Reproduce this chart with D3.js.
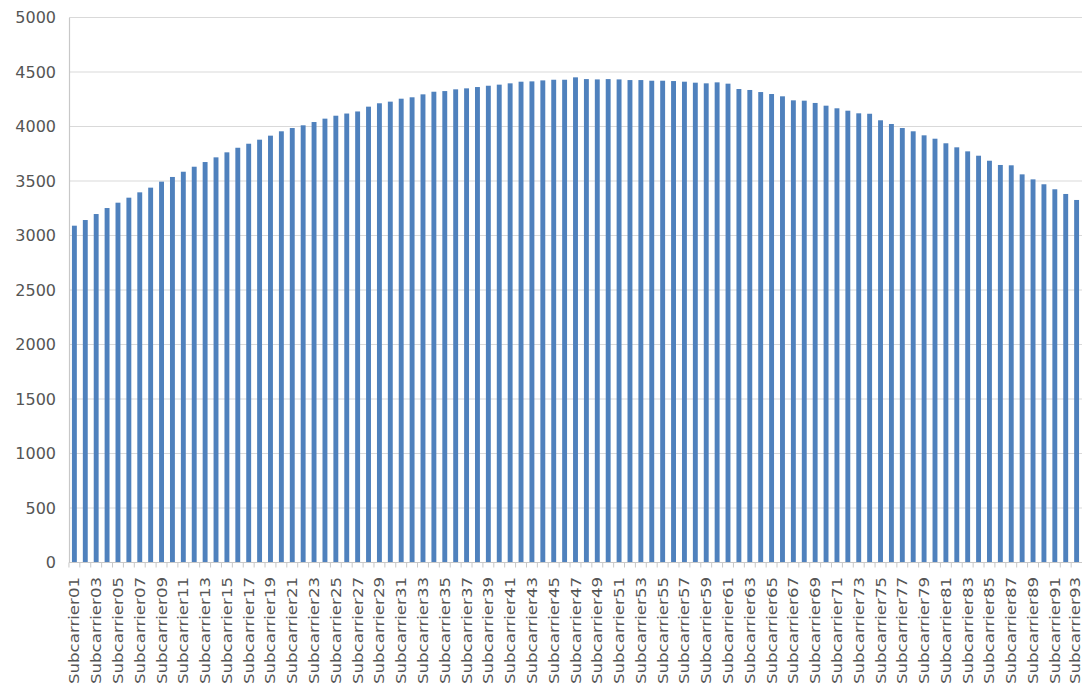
<!DOCTYPE html>
<html><head><meta charset="utf-8">
<script src="https://cdn.jsdelivr.net/npm/d3@7/dist/d3.min.js"></script>
<style>html,body{margin:0;padding:0;background:#fff;overflow:hidden}</style>
</head><body><svg id="c" width="1082" height="689"></svg>
<script>
const categories = Array.from({length: 93}, (_, i) => "Subcarrier" + String(i + 1).padStart(2, "0"));
const values = [
  3090, 3142, 3197, 3252, 3301, 3347, 3396, 3439, 3494, 3537,
  3585, 3631, 3674, 3717, 3763, 3805, 3842, 3879, 3916, 3956,
  3986, 4011, 4041, 4072, 4099, 4119, 4138, 4182, 4213, 4228,
  4255, 4268, 4295, 4319, 4325, 4341, 4350, 4362, 4374, 4384,
  4396, 4411, 4414, 4423, 4429, 4429, 4451, 4435, 4432, 4435,
  4432, 4426, 4426, 4420, 4420, 4417, 4411, 4402, 4396, 4405,
  4393, 4344, 4335, 4316, 4298, 4277, 4240, 4237, 4216, 4191,
  4167, 4145, 4121, 4117, 4057, 4023, 3986, 3956, 3919, 3888,
  3846, 3809, 3772, 3732, 3686, 3647, 3644, 3561, 3515, 3470,
  3424, 3381, 3326
];
const yTicks = [0, 500, 1000, 1500, 2000, 2500, 3000, 3500, 4000, 4500, 5000];

const svg = d3.select("#c");
const mLeft = 69, mRight = 1082, mTop = 17.5, mBottom = 562.5;
const x = d3.scaleBand().domain(categories).range([mLeft, mRight]).paddingInner(0.55).paddingOuter(0.27);
const y = d3.scaleLinear().domain([0, 5000]).range([mBottom, mTop]);

// gridlines
svg.append("g").selectAll("line").data(yTicks.filter(d => d > 0)).join("line")
  .attr("x1", mLeft).attr("x2", mRight)
  .attr("y1", d => y(d)).attr("y2", d => y(d))
  .attr("stroke", "#d9d9d9").attr("stroke-width", 1.2);

// bars
svg.append("g").selectAll("rect").data(values).join("rect")
  .attr("x", (d, i) => x(categories[i]))
  .attr("width", x.bandwidth())
  .attr("y", d => y(d))
  .attr("height", d => y(0) - y(d))
  .attr("fill", "#4f81bd");

// y axis
const yAxis = d3.axisLeft(y).tickValues(yTicks).tickFormat(d3.format("d")).tickSize(0).tickPadding(13);
const gy = svg.append("g").attr("transform", `translate(${mLeft},0)`).call(yAxis);
gy.select(".domain").attr("stroke", "#c8c8c8").attr("stroke-width", 1.2);
gy.selectAll("text").attr("font-family", "DejaVu Sans, Verdana, sans-serif")
  .attr("font-size", 16).attr("fill", "#555");

// x axis baseline
svg.append("line").attr("x1", mLeft).attr("x2", mRight).attr("y1", y(0)).attr("y2", y(0))
  .attr("stroke", "#c8c8c8").attr("stroke-width", 1.2);

// category boundary ticks
const step = x.step();
svg.append("g").selectAll("line").data(categories).join("line")
  .attr("x1", d => x(d) - (step - x.bandwidth()) / 2)
  .attr("x2", d => x(d) - (step - x.bandwidth()) / 2)
  .attr("y1", y(0)).attr("y2", y(0) + 5)
  .attr("stroke", "#c8c8c8");

// x labels (every other)
svg.append("g").selectAll("text").data(categories.filter((d, i) => i % 2 === 0)).join("text")
  .attr("transform", d => `translate(${Math.min(x(d) + x.bandwidth() / 2 + 5, 1080)},577) rotate(-90)`)
  .attr("text-anchor", "end")
  .attr("font-family", "DejaVu Sans, Verdana, sans-serif")
  .attr("font-size", 14)
  .attr("textLength", 107).attr("lengthAdjust", "spacingAndGlyphs")
  .attr("fill", "#555")
  .text(d => d);
</script></body></html>
